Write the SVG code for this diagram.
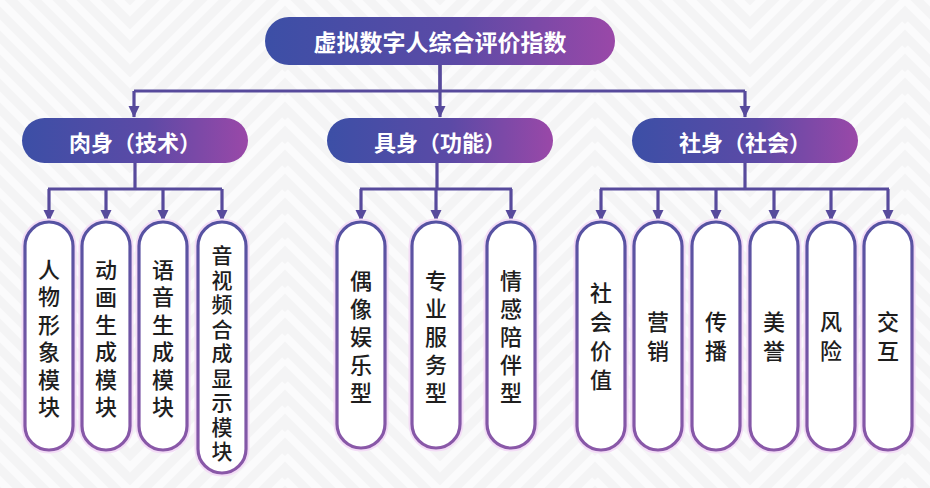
<svg xmlns="http://www.w3.org/2000/svg" width="930" height="488" viewBox="0 0 930 488">
  <defs>
    <linearGradient id="gNode" x1="0" y1="0" x2="1" y2="0">
      <stop offset="0" stop-color="#3c4fa6"/>
      <stop offset="0.55" stop-color="#5c4aa6"/>
      <stop offset="1" stop-color="#9a48a8"/>
    </linearGradient>
    <linearGradient id="gLeaf" x1="0" y1="0" x2="0" y2="1">
      <stop offset="0" stop-color="#5552a2"/>
      <stop offset="1" stop-color="#8a58a8"/>
    </linearGradient>
    <pattern id="bgPat" patternUnits="userSpaceOnUse" x="-25" y="0" width="310" height="24">
      <rect width="310" height="24" fill="#f4f4f5"/>
      <path d="M0 48 L155 203 L310 48 M0 24 L155 179 L310 24 M0 0 L155 155 L310 0 M0 -24 L155 131 L310 -24 M0 -48 L155 107 L310 -48 M0 -72 L155 83 L310 -72 M0 -96 L155 59 L310 -96 M0 -120 L155 35 L310 -120 M0 -144 L155 11 L310 -144 M0 -168 L155 -13 L310 -168 M0 -192 L155 -37 L310 -192" fill="none" stroke="#fbfbfc" stroke-width="8"/>
    </pattern>
    <marker id="arr" markerUnits="userSpaceOnUse" markerWidth="12" markerHeight="12" refX="11" refY="6" orient="auto" viewBox="0 0 12 12">
      <path d="M0 0.5 L11.5 6 L0 11.5 Z" fill="#574a9c"/>
    </marker>
  </defs>
  <style>
    .conn { fill: none; stroke: #574a9c; stroke-width: 3.2; }
    .main rect { fill: url(#gNode); }
    .main text { fill: #ffffff; font-family: "Noto Sans CJK SC", "Noto Sans", sans-serif; font-weight: 700; text-anchor: middle; dominant-baseline: central; }
    .leaf .glow { fill: none; stroke: #f3dcf6; stroke-width: 7; }
    .leaf .box { fill: #ffffff; stroke: url(#gLeaf); stroke-width: 3.2; }
    .leaf text { fill: #1e1e1e; font-family: "Noto Sans CJK SC", "Noto Sans", sans-serif; font-size: 22px; font-weight: 500; text-anchor: middle; writing-mode: vertical-rl; }
  </style>

  <rect width="930" height="488" fill="url(#bgPat)"/>

  <g id="connectors">
    <path class="conn" d="M440 65 V90"/>
    <path class="conn" d="M134 91 H745"/>
    <path class="conn" d="M134 91 V117" marker-end="url(#arr)"/>
    <path class="conn" d="M440 65 V117" marker-end="url(#arr)"/>
    <path class="conn" d="M745 91 V117" marker-end="url(#arr)"/>

    <path class="conn" d="M135 163 V189"/>
    <path class="conn" d="M48 189 H222"/>
    <path class="conn" d="M49 189 V221" marker-end="url(#arr)"/>
    <path class="conn" d="M106 189 V221" marker-end="url(#arr)"/>
    <path class="conn" d="M163 189 V221" marker-end="url(#arr)"/>
    <path class="conn" d="M222 189 V221" marker-end="url(#arr)"/>

    <path class="conn" d="M437 163 V189"/>
    <path class="conn" d="M360 189 H512"/>
    <path class="conn" d="M361 189 V221" marker-end="url(#arr)"/>
    <path class="conn" d="M436 189 V221" marker-end="url(#arr)"/>
    <path class="conn" d="M511 189 V221" marker-end="url(#arr)"/>

    <path class="conn" d="M745 163 V189"/>
    <path class="conn" d="M600 189 H889"/>
    <path class="conn" d="M601 189 V221" marker-end="url(#arr)"/>
    <path class="conn" d="M658 189 V221" marker-end="url(#arr)"/>
    <path class="conn" d="M716 189 V221" marker-end="url(#arr)"/>
    <path class="conn" d="M774 189 V221" marker-end="url(#arr)"/>
    <path class="conn" d="M831 189 V221" marker-end="url(#arr)"/>
    <path class="conn" d="M888 189 V221" marker-end="url(#arr)"/>
  </g>

  <g id="root" class="main">
    <rect x="265" y="17" width="350" height="48" rx="24"/>
    <text x="440" y="41" font-size="23">虚拟数字人综合评价指数</text>
  </g>

  <g id="tech" class="main">
    <rect x="22" y="118" width="226" height="45" rx="22.5"/>
    <text x="135" y="140.5" font-size="22">肉身（技术）</text>
  </g>
  <g id="func" class="main">
    <rect x="327" y="118" width="226" height="45" rx="22.5"/>
    <text x="440" y="140.5" font-size="22">具身（功能）</text>
  </g>
  <g id="social" class="main">
    <rect x="632" y="118" width="226" height="45" rx="22.5"/>
    <text x="745" y="140.5" font-size="22">社身（社会）</text>
  </g>

  <g id="leaf-t1" class="leaf">
    <rect class="glow" x="25" y="222" width="48" height="228" rx="24"/>
    <rect class="box" x="25" y="222" width="48" height="228" rx="24"/>
    <text x="49" y="341" letter-spacing="5.5">人物形象模块</text>
  </g>
  <g id="leaf-t2" class="leaf">
    <rect class="glow" x="82" y="222" width="48" height="228" rx="24"/>
    <rect class="box" x="82" y="222" width="48" height="228" rx="24"/>
    <text x="106" y="341" letter-spacing="5.5">动画生成模块</text>
  </g>
  <g id="leaf-t3" class="leaf">
    <rect class="glow" x="139" y="222" width="48" height="228" rx="24"/>
    <rect class="box" x="139" y="222" width="48" height="228" rx="24"/>
    <text x="163" y="341" letter-spacing="5.5">语音生成模块</text>
  </g>
  <g id="leaf-t4" class="leaf">
    <rect class="glow" x="198" y="222" width="48" height="251" rx="24"/>
    <rect class="box" x="198" y="222" width="48" height="251" rx="24"/>
    <text x="222" y="355" style="font-size:21px" letter-spacing="3.5">音视频合成显示模块</text>
  </g>

  <g id="leaf-f1" class="leaf">
    <rect class="glow" x="337" y="222" width="48" height="226" rx="24"/>
    <rect class="box" x="337" y="222" width="48" height="226" rx="24"/>
    <text x="361" y="339.5" letter-spacing="6">偶像娱乐型</text>
  </g>
  <g id="leaf-f2" class="leaf">
    <rect class="glow" x="412" y="222" width="48" height="226" rx="24"/>
    <rect class="box" x="412" y="222" width="48" height="226" rx="24"/>
    <text x="436" y="339.5" letter-spacing="6">专业服务型</text>
  </g>
  <g id="leaf-f3" class="leaf">
    <rect class="glow" x="487" y="222" width="48" height="226" rx="24"/>
    <rect class="box" x="487" y="222" width="48" height="226" rx="24"/>
    <text x="511" y="339.5" letter-spacing="6">情感陪伴型</text>
  </g>

  <g id="leaf-s1" class="leaf">
    <rect class="glow" x="577" y="222" width="48" height="228" rx="24"/>
    <rect class="box" x="577" y="222" width="48" height="228" rx="24"/>
    <text x="601" y="339.5" letter-spacing="7">社会价值</text>
  </g>
  <g id="leaf-s2" class="leaf">
    <rect class="glow" x="634" y="222" width="48" height="228" rx="24"/>
    <rect class="box" x="634" y="222" width="48" height="228" rx="24"/>
    <text x="658" y="340" letter-spacing="7">营销</text>
  </g>
  <g id="leaf-s3" class="leaf">
    <rect class="glow" x="692" y="222" width="48" height="228" rx="24"/>
    <rect class="box" x="692" y="222" width="48" height="228" rx="24"/>
    <text x="716" y="340" letter-spacing="7">传播</text>
  </g>
  <g id="leaf-s4" class="leaf">
    <rect class="glow" x="750" y="222" width="48" height="228" rx="24"/>
    <rect class="box" x="750" y="222" width="48" height="228" rx="24"/>
    <text x="774" y="340" letter-spacing="7">美誉</text>
  </g>
  <g id="leaf-s5" class="leaf">
    <rect class="glow" x="807" y="222" width="48" height="228" rx="24"/>
    <rect class="box" x="807" y="222" width="48" height="228" rx="24"/>
    <text x="831" y="340" letter-spacing="7">风险</text>
  </g>
  <g id="leaf-s6" class="leaf">
    <rect class="glow" x="864" y="222" width="48" height="228" rx="24"/>
    <rect class="box" x="864" y="222" width="48" height="228" rx="24"/>
    <text x="888" y="340" letter-spacing="7">交互</text>
  </g>
</svg>
